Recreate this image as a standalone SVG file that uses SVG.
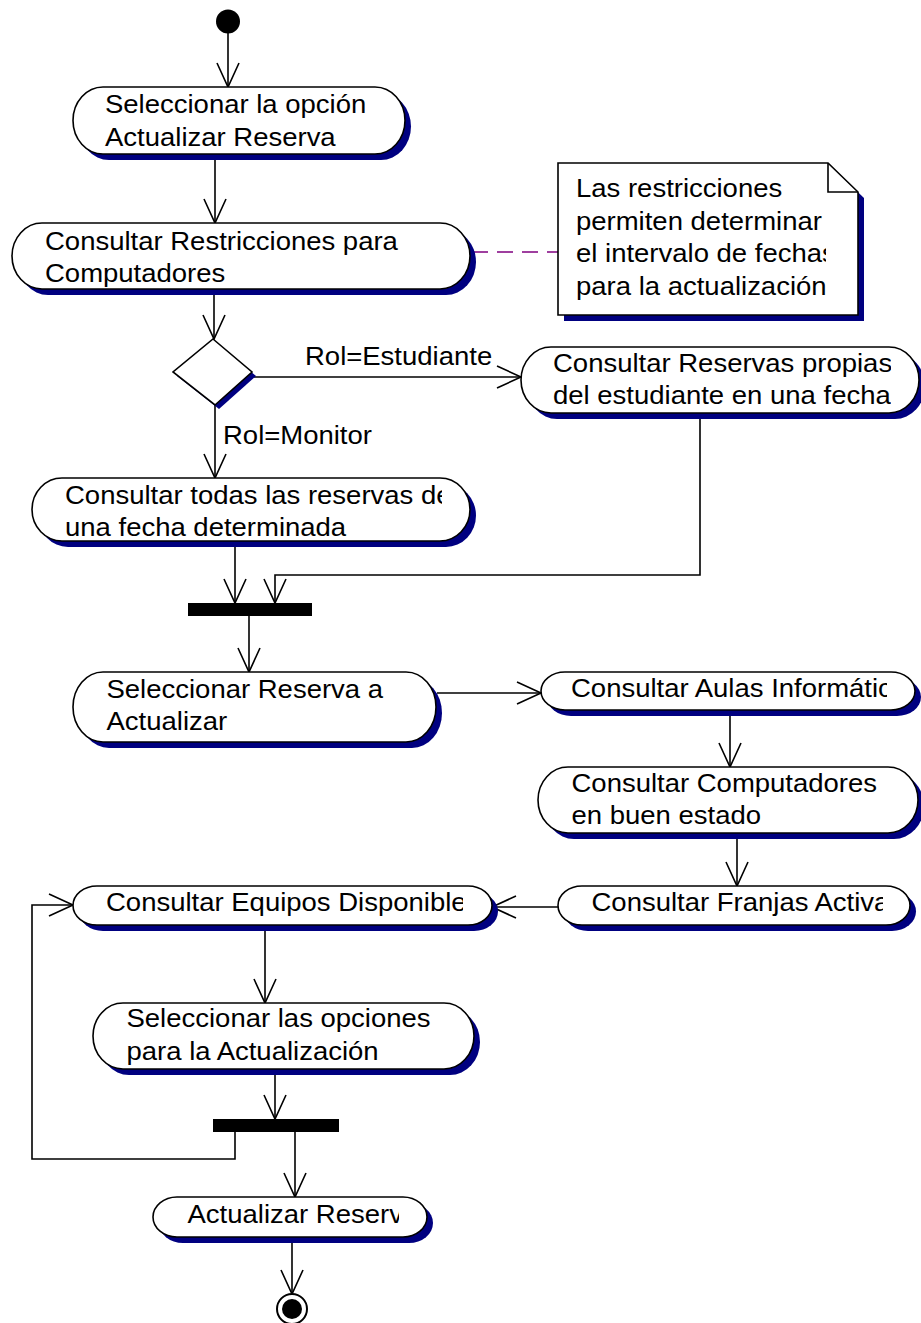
<svg xmlns="http://www.w3.org/2000/svg" width="921" height="1323" viewBox="0 0 921 1323">
<style>
.sh{fill:#000080;stroke:none}
.act{fill:#fff;stroke:#000;stroke-width:1.6}
.t{font-family:"Liberation Sans",Arial,sans-serif;font-size:25px;fill:#000}
.c{fill:none;stroke:#000;stroke-width:1.6}
.bar{fill:#000}
</style>
<defs>
<marker id="ah" markerUnits="userSpaceOnUse" markerWidth="30" markerHeight="30" refX="24" refY="11" orient="auto" overflow="visible">
<path d="M0,0 L24,11 L0,22" fill="none" stroke="#000" stroke-width="1.6"/>
</marker>
<clipPath id="cNote"><rect x="560" y="160" width="266" height="160"/></clipPath>
<clipPath id="cA3"><rect x="522" y="340" width="369" height="80"/></clipPath>
<clipPath id="cA4"><rect x="33" y="470" width="409" height="80"/></clipPath>
<clipPath id="cA6"><rect x="542" y="665" width="345" height="50"/></clipPath>
<clipPath id="cA8"><rect x="560" y="880" width="323" height="50"/></clipPath>
<clipPath id="cA9"><rect x="74" y="880" width="389" height="50"/></clipPath>
<clipPath id="cA11"><rect x="155" y="1190" width="244" height="50"/></clipPath>
</defs>
<rect width="921" height="1323" fill="#fff"/>

<g id="connectors">
<path class="c" d="M228,33 V87" marker-end="url(#ah)"/>
<path class="c" d="M215,154 V223" marker-end="url(#ah)"/>
<path d="M472,252 H558" fill="none" stroke="#800080" stroke-width="1.6" stroke-dasharray="16,9"/>
<path class="c" d="M214,289 V339" marker-end="url(#ah)"/>
<path class="c" d="M254,377 H521" marker-end="url(#ah)"/>
<path class="c" d="M215,405 V478" marker-end="url(#ah)"/>
<path class="c" d="M235,542 V603" marker-end="url(#ah)"/>
<path class="c" d="M700,413 V575 H275 V603" marker-end="url(#ah)"/>
<path class="c" d="M249,616 V672" marker-end="url(#ah)"/>
<path class="c" d="M437,693 H541" marker-end="url(#ah)"/>
<path class="c" d="M730,710 V767" marker-end="url(#ah)"/>
<path class="c" d="M737,833 V886" marker-end="url(#ah)"/>
<path class="c" d="M558,907 H492" marker-end="url(#ah)"/>
<path class="c" d="M265,925 V1003" marker-end="url(#ah)"/>
<path class="c" d="M275,1069 V1119" marker-end="url(#ah)"/>
<path class="c" d="M235,1132 V1159 H32 V905 H73" marker-end="url(#ah)"/>
<path class="c" d="M295,1132 V1197" marker-end="url(#ah)"/>
<path class="c" d="M292,1237 V1294" marker-end="url(#ah)"/>
</g>

<g id="initial"><circle cx="228" cy="21.5" r="12" fill="#000"/></g>

<g id="a1">
<rect class="sh" x="79" y="93" width="332" height="67" rx="30" ry="33.5"/>
<rect class="act" x="73" y="87" width="332" height="67" rx="30" ry="33.5"/>
<text class="t" transform="translate(105,113) scale(1.1,1)">Seleccionar la opción</text>
<text class="t" transform="translate(105,146) scale(1.1,1)">Actualizar Reserva</text>
</g>

<g id="a2">
<rect class="sh" x="18" y="229" width="458" height="66" rx="30" ry="33"/>
<rect class="act" x="12" y="223" width="458" height="66" rx="30" ry="33"/>
<text class="t" transform="translate(45,249.5) scale(1.1,1)">Consultar Restricciones para</text>
<text class="t" transform="translate(45,282) scale(1.1,1)">Computadores</text>
</g>

<g id="note">
<path class="sh" d="M564,169 H834 L864,198 V321 H564 Z"/>
<path class="act" d="M558,163 H828 L858,192 V315 H558 Z"/>
<path class="c" d="M828,163 V192 H858"/>
<g clip-path="url(#cNote)">
<text class="t" transform="translate(576,197) scale(1.1,1)">Las restricciones</text>
<text class="t" transform="translate(576,229.5) scale(1.1,1)">permiten determinar</text>
<text class="t" transform="translate(576,262) scale(1.1,1)">el intervalo de fechas</text>
<text class="t" transform="translate(576,294.5) scale(1.1,1)">para la actualización</text>
</g>
</g>

<g id="decision">
<path class="sh" d="M217,343 L256,376 L219,409 L177,376 Z"/>
<path class="act" d="M213,339 L252,372 L215,405 L173,372 Z"/>
</g>
<text class="t" transform="translate(305,365) scale(1.1,1)">Rol=Estudiante</text>
<text class="t" transform="translate(223,443.5) scale(1.1,1)">Rol=Monitor</text>

<g id="a3">
<rect class="sh" x="527" y="353" width="398" height="66" rx="30" ry="33"/>
<rect class="act" x="521" y="347" width="398" height="66" rx="30" ry="33"/>
<g clip-path="url(#cA3)">
<text class="t" transform="translate(553,372) scale(1.1,1)">Consultar Reservas propias</text>
<text class="t" transform="translate(553,404) scale(1.1,1)">del estudiante en una fecha</text>
</g>
</g>

<g id="a4">
<rect class="sh" x="38" y="484" width="438" height="63" rx="30" ry="31.5"/>
<rect class="act" x="32" y="478" width="438" height="63" rx="30" ry="31.5"/>
<g clip-path="url(#cA4)">
<text class="t" transform="translate(65,503.5) scale(1.1,1)">Consultar todas las reservas de</text>
<text class="t" transform="translate(65,535.5) scale(1.1,1)">una fecha determinada</text>
</g>
</g>

<g id="join1"><rect class="bar" x="188" y="603" width="124" height="13"/></g>

<g id="a5">
<rect class="sh" x="79" y="678" width="363" height="70" rx="30" ry="35"/>
<rect class="act" x="73" y="672" width="363" height="70" rx="30" ry="35"/>
<text class="t" transform="translate(106.5,697.5) scale(1.1,1)">Seleccionar Reserva a</text>
<text class="t" transform="translate(106.5,730) scale(1.1,1)">Actualizar</text>
</g>

<g id="a6">
<rect class="sh" x="547" y="678" width="374" height="38" rx="24" ry="19"/>
<rect class="act" x="541" y="672" width="374" height="38" rx="24" ry="19"/>
<g clip-path="url(#cA6)">
<text class="t" transform="translate(571,696.5) scale(1.1,1)">Consultar Aulas Informáticas</text>
</g>
</g>

<g id="a7">
<rect class="sh" x="544" y="773" width="380" height="66" rx="30" ry="33"/>
<rect class="act" x="538" y="767" width="380" height="66" rx="30" ry="33"/>
<text class="t" transform="translate(571.5,792) scale(1.1,1)">Consultar Computadores</text>
<text class="t" transform="translate(571.5,824) scale(1.1,1)">en buen estado</text>
</g>

<g id="a8">
<rect class="sh" x="564" y="892" width="352" height="39" rx="24" ry="19.5"/>
<rect class="act" x="558" y="886" width="352" height="39" rx="24" ry="19.5"/>
<g clip-path="url(#cA8)">
<text class="t" transform="translate(591.5,910.5) scale(1.1,1)">Consultar Franjas Activas</text>
</g>
</g>

<g id="a9">
<rect class="sh" x="79" y="892" width="419" height="39" rx="24" ry="19.5"/>
<rect class="act" x="73" y="886" width="419" height="39" rx="24" ry="19.5"/>
<g clip-path="url(#cA9)">
<text class="t" transform="translate(106,910.5) scale(1.1,1)">Consultar Equipos Disponibles</text>
</g>
</g>

<g id="a10">
<rect class="sh" x="99" y="1009" width="381" height="66" rx="30" ry="33"/>
<rect class="act" x="93" y="1003" width="381" height="66" rx="30" ry="33"/>
<text class="t" transform="translate(126.5,1027) scale(1.1,1)">Seleccionar las opciones</text>
<text class="t" transform="translate(126.5,1060) scale(1.1,1)">para la Actualización</text>
</g>

<g id="join2"><rect class="bar" x="213" y="1119" width="126" height="13"/></g>

<g id="a11">
<rect class="sh" x="159" y="1203" width="274" height="40" rx="24" ry="20"/>
<rect class="act" x="153" y="1197" width="274" height="40" rx="24" ry="20"/>
<g clip-path="url(#cA11)">
<text class="t" transform="translate(187.5,1223) scale(1.1,1)">Actualizar Reserva</text>
</g>
</g>

<g id="final">
<circle cx="292" cy="1309" r="15" fill="#fff" stroke="#000" stroke-width="2"/>
<circle cx="292" cy="1309" r="10" fill="#000"/>
</g>
</svg>
